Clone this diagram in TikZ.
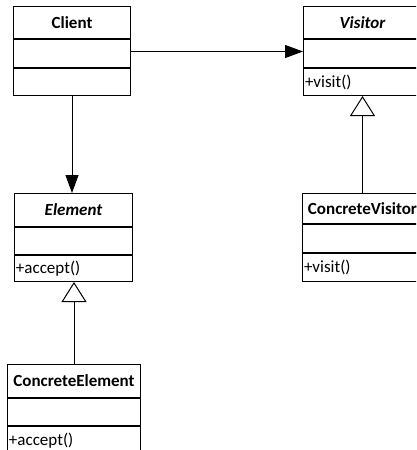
\documentclass[tikz,border=0pt]{standalone}
\usepackage{fontspec}
\setmainfont{Carlito}
\usetikzlibrary{arrows.meta,calc}
\begin{document}
\begin{tikzpicture}[x=1pt,y=-1pt,
  sec/.style={draw, line width=1pt, anchor=north west, inner sep=0pt, minimum width=#1},
  ttl/.style={font=\fontsize{17}{20}\selectfont\bfseries},
  attl/.style={font=\fontsize{17}{20}\selectfont\bfseries\itshape},
  meth/.style={font=\fontsize{17}{20}\selectfont, align=left, inner xsep=1.5pt, text width=#1-3pt},
  assoc/.style={line width=1pt, -{Triangle[length=18pt,width=13pt]}},
  inherit/.style={line width=1pt, -{Triangle[open,length=20pt,width=25pt,fill=white]}}
]
\useasboundingbox (0,0) rectangle (416,450);
\fill[white] (0,0) rectangle (416,450);
\clip (0,0) rectangle (416,450);

% Client
\node[sec=117pt, minimum height=32pt, ttl] (client-t) at (13,6) {Client};
\node[sec=117pt, minimum height=28pt] (client-a) at (client-t.south west) {};
\node[sec=117pt, minimum height=27pt] (client-m) at (client-a.south west) {};

% Visitor
\node[sec=118pt, minimum height=32pt, attl] (visitor-t) at (303,6) {Visitor};
\node[sec=118pt, minimum height=28pt] (visitor-a) at (visitor-t.south west) {};
\node[sec=118pt, minimum height=27pt, meth=118pt] (visitor-m) at (visitor-a.south west) {+visit()};

% Element
\node[sec=118pt, minimum height=33pt, attl] (element-t) at (14,193) {Element};
\node[sec=118pt, minimum height=27pt] (element-a) at (element-t.south west) {};
\node[sec=118pt, minimum height=26pt, meth=118pt] (element-m) at (element-a.south west) {+accept()};

% ConcreteVisitor
\node[sec=120pt, minimum height=30pt, ttl] (cvisitor-t) at (302,193) {ConcreteVisitor};
\node[sec=120pt, minimum height=28pt] (cvisitor-a) at (cvisitor-t.south west) {};
\node[sec=120pt, minimum height=28pt, meth=120pt] (cvisitor-m) at (cvisitor-a.south west) {+visit()};

% ConcreteElement
\node[sec=133pt, minimum height=33pt, ttl] (celement-t) at (7,364) {ConcreteElement};
\node[sec=133pt, minimum height=27pt] (celement-a) at (celement-t.south west) {};
\node[sec=133pt, minimum height=28pt, meth=133pt] (celement-m) at (celement-a.south west) {+accept()};

% connectors
\coordinate (cstart) at ($(client-a.east)+(0,-2)$);
\draw[assoc] (cstart) -- (cstart -| visitor-a.west);
\draw[assoc] (client-m.south) -- (client-m.south |- element-t.north);
\draw[inherit] (cvisitor-t.north) -- (cvisitor-t.north |- visitor-m.south);
\draw[inherit] (celement-t.north) -- (celement-t.north |- element-m.south);
\end{tikzpicture}
\end{document}
